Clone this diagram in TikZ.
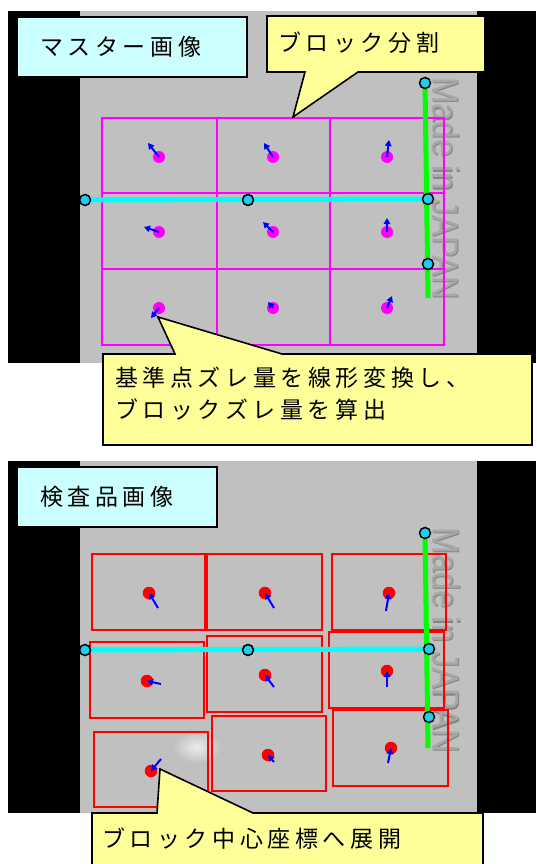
\documentclass[tikz,border=0pt]{standalone}
\usepackage{fontspec}
\usetikzlibrary{arrows.meta}
\newfontfamily\jpfont[LetterSpace=20]{Noto Sans CJK JP}
\newfontfamily\stampfont{Liberation Sans}
\definecolor{plate}{HTML}{C0C0C0}
\definecolor{labelcyan}{HTML}{CCFFFF}
\definecolor{notefill}{HTML}{FFFF99}
\definecolor{refblue}{HTML}{22CCEE}
\definecolor{axiscyan}{HTML}{00FFFF}
\definecolor{axisgreen}{HTML}{00FF00}
\definecolor{gridpink}{HTML}{FF00FF}
\definecolor{boxred}{HTML}{FF0000}
\definecolor{arrowblue}{HTML}{0000FF}
\definecolor{stampdark}{HTML}{858585}
\definecolor{stamplight}{HTML}{A8A8A8}

\begin{document}
\begin{tikzpicture}[x=1pt,y=-1pt,
  titlebox/.style={draw=black, line width=2pt, fill=labelcyan},
  note/.style={draw=black, line width=1.6pt, fill=notefill, line join=miter},
  jptext/.style={font=\jpfont\fontsize{23}{32}\selectfont, inner sep=0pt, anchor=west, align=left},
  gridline/.style={draw=gridpink, line width=1.8pt},
  blockbox/.style={draw=boxred, line width=2pt},
  hline/.style={draw=axiscyan, line width=5pt},
  vline/.style={draw=axisgreen, line width=5pt},
  refpt/.style={circle, draw=black, line width=1.5pt, fill=refblue, minimum size=11pt, inner sep=0pt},
  mdot/.style={circle, fill=gridpink, minimum size=12pt, inner sep=0pt},
  rdot/.style={circle, fill=boxred, minimum size=12.5pt, inner sep=0pt},
  shiftarrow/.style={draw=arrowblue, line width=2pt, -{Triangle[length=6pt,width=6.5pt]}},
  stamp/.style={inner sep=0pt, rotate=-90, anchor=base west},
]
\useasboundingbox (0,0) rectangle (536,864);
\fill[white] (0,0) rectangle (536,864);

% ---------- master image ----------
\fill[black] (8,11) rectangle (536,363);
\fill[plate] (80,11) rectangle (477,363);

% embossed stamp on the part
\node[stamp, text=stampdark] (stampA) at (433.5,78.5)
  {\stampfont\fontsize{37}{37}\selectfont\scalebox{0.86}[1]{Made in JAPAN}};
\node[stamp, text=stamplight] (stampAh) at (432,77)
  {\stampfont\fontsize{37}{37}\selectfont\scalebox{0.86}[1]{Made in JAPAN}};

% 3x3 block grid
\draw[gridline] (102,118) rectangle (444,345);
\draw[gridline] (217,118) -- (217,345);
\draw[gridline] (330,118) -- (330,345);
\draw[gridline] (102,193) -- (444,193);
\draw[gridline] (102,269) -- (444,269);

% reference axes
\coordinate (a1) at (85,200);
\coordinate (a2) at (248,200);
\coordinate (a3) at (428,199);
\coordinate (b1) at (425,83);
\coordinate (b2) at (428,264);
\coordinate (b3) at (428,298);
\draw[hline] (a1) -- (a3);
\draw[vline] (b1) -- (b3);
\foreach \p in {a1,a2,a3,b1,b2} \node[refpt] (r\p) at (\p) {};

% block shifts (master)
\foreach \n/\x/\y/\tx/\ty in {
  11/159/157/148/143, 12/273/157/264/143, 13/387/157/389/140,
  21/159/232/144/227, 22/273/232/263/222, 23/387/232/387/218,
  31/159/308/151/318, 32/273/308/268/302, 33/387/308/392/296}{
  \node[mdot] (m\n) at (\x,\y) {};
  \coordinate (mt\n) at (\tx,\ty);
  \draw[shiftarrow] (m\n.center) -- (mt\n);
}

% title
\draw[titlebox] (17,17) rectangle (247,77);
\node[jptext] (titleA) at (40,47) {マスター画像};

% callouts
\draw[note] (267,16) -- (485,16) -- (485,72) -- (358,72) -- (293,117) -- (305,72) -- (267,72) -- cycle;
\node[jptext] (noteA) at (278,43) {ブロック分割};

\draw[note] (103,354) -- (175,354) -- (158,317) -- (282,354) -- (532,354) -- (532,445) -- (103,445) -- cycle;
\node[jptext] (noteB) at (115,394) {基準点ズレ量を線形変換し、\\ブロックズレ量を算出};

% ---------- inspected image ----------
\fill[black] (8,461) rectangle (536,813);
\fill[plate] (80,461) rectangle (477,813);
\shade[inner color=white!70!plate, outer color=plate] (197,747) ellipse (24 and 16);

\node[stamp, text=stampdark] (stampB) at (433.5,528.5)
  {\stampfont\fontsize{38}{38}\selectfont\scalebox{0.85}[1]{Made in JAPAN}};
\node[stamp, text=stamplight] (stampBh) at (432,527)
  {\stampfont\fontsize{38}{38}\selectfont\scalebox{0.85}[1]{Made in JAPAN}};

% displaced blocks
\draw[blockbox] (92,554) rectangle (205,630);
\draw[blockbox] (207,554) rectangle (322,630);
\draw[blockbox] (332,554) rectangle (446,630);
\draw[blockbox] (90,642) rectangle (204,718);
\draw[blockbox] (207,636) rectangle (322,712);
\draw[blockbox] (329,632) rectangle (444,708);
\draw[blockbox] (94,732) rectangle (208,807);
\draw[blockbox] (212,716) rectangle (326,791);
\draw[blockbox] (333,710) rectangle (448,786);

\coordinate (c1) at (85,650);
\coordinate (c2) at (248,650);
\coordinate (c3) at (429,649);
\coordinate (d1) at (425,533);
\coordinate (d2) at (429,717);
\coordinate (d3) at (428,748);
\draw[hline] (c1) -- (c3);
\draw[vline] (d1) -- (d3);
\foreach \p in {c1,c2,c3,d1,d2} \node[refpt] (r\p) at (\p) {};

% block centres (inspected)
\foreach \n/\x/\y/\tx/\ty in {
  11/149/593/158/608, 12/265/593/274/608, 13/389/593/386/611,
  21/147/681/161/684, 22/265/675/274/687, 23/387/671/387/687,
  31/151/771/161/759, 32/268/755/274/762, 33/391/748/388/763}{
  \node[rdot] (k\n) at (\x,\y) {};
  \coordinate (kt\n) at (\tx,\ty);
  \draw[shiftarrow] (kt\n) -- (k\n.center);
}

\draw[titlebox] (17,467) rectangle (217,527);
\node[jptext] (titleB) at (40,497) {検査品画像};

\draw[note] (92,813) -- (157,813) -- (160,769) -- (253,813) -- (483,813) -- (483,870) -- (92,870) -- cycle;
\node[jptext] (noteC) at (102,839) {ブロック中心座標へ展開};
\end{tikzpicture}
\end{document}
